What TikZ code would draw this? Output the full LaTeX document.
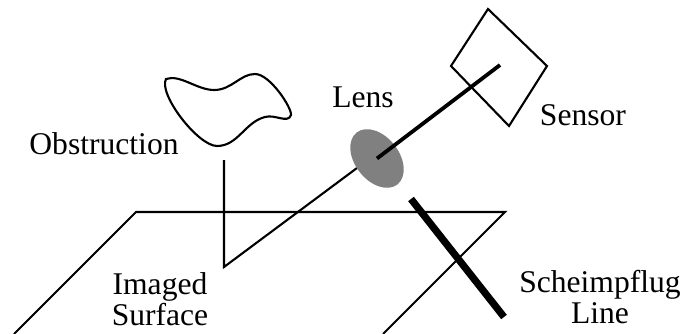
\documentclass[tikz,border=0pt]{standalone}
\usepackage{fontspec}
\setmainfont{Liberation Serif}
\usetikzlibrary{shapes.geometric}
\begin{document}
\begin{tikzpicture}[
    x=1pt, y=-1pt,
    outline/.style={draw=black, line width=2.1pt, line join=miter},
    ray/.style={draw=black, line width=2.1pt},
    axisline/.style={draw=black, line width=3.8pt},
    focusline/.style={draw=black, line width=7.2pt},
    lensshape/.style={ellipse, fill=black!50, minimum width=66pt, minimum height=44pt,
                 inner sep=0pt, rotate=-52},
    caption/.style={font=\fontsize{31.6}{31}\selectfont, align=center, inner sep=0pt},
  ]
    \useasboundingbox (0,0) rectangle (685,334);

    \coordinate (pa) at (136,212);
    \coordinate (pb) at (505,212);
    \coordinate (pc) at (383,334);
    \coordinate (pd) at (14,334);
    \coordinate (obs) at (224,160);
    \coordinate (hit) at (224,267);
    \coordinate (rayend) at (357,168);
    \coordinate (sens) at (500,65);
    \coordinate (sa) at (488,9);
    \coordinate (sb) at (547,66);
    \coordinate (sc) at (509,126);
    \coordinate (sd) at (451,66);
    \coordinate (fa) at (411,199);
    \coordinate (fb) at (504,317);

    \draw[outline] (pd) -- (pa) -- (pb) -- (pc);
    \draw[outline] (sa) -- (sb) -- (sc) -- (sd) -- cycle;
    \draw[ray] (obs) -- (hit) -- (rayend);
    \node[lensshape] (lens) at (377,158.5) {};
    \draw[axisline] (lens.center) -- (sens);
    \draw[focusline] (fa) -- (fb);

    % obstruction outline
    \draw[outline] (166,79) .. controls (180,74) and (197,90) .. (214,90)
      .. controls (232,90) and (240,74) .. (255,74)
      .. controls (270,74) and (292,108) .. (291,115)
      .. controls (288,124) and (275,114) .. (265,117)
      .. controls (245,122) and (238,146) .. (217,146)
      .. controls (198,146) and (158,94) .. (166,79) -- cycle;

    \node[caption] (lbLens) at (363,97) {Lens};
    \node[caption] (lbSensor) at (583,115) {Sensor};
    \node[caption] (lbObs) at (104,144) {Obstruction};
    \node[caption] (lbSurf) at (160,299) {Imaged\\Surface};
    \node[caption] (lbLine) at (600,297) {Scheimpflug\\Line};
  \end{tikzpicture}
\end{document}
